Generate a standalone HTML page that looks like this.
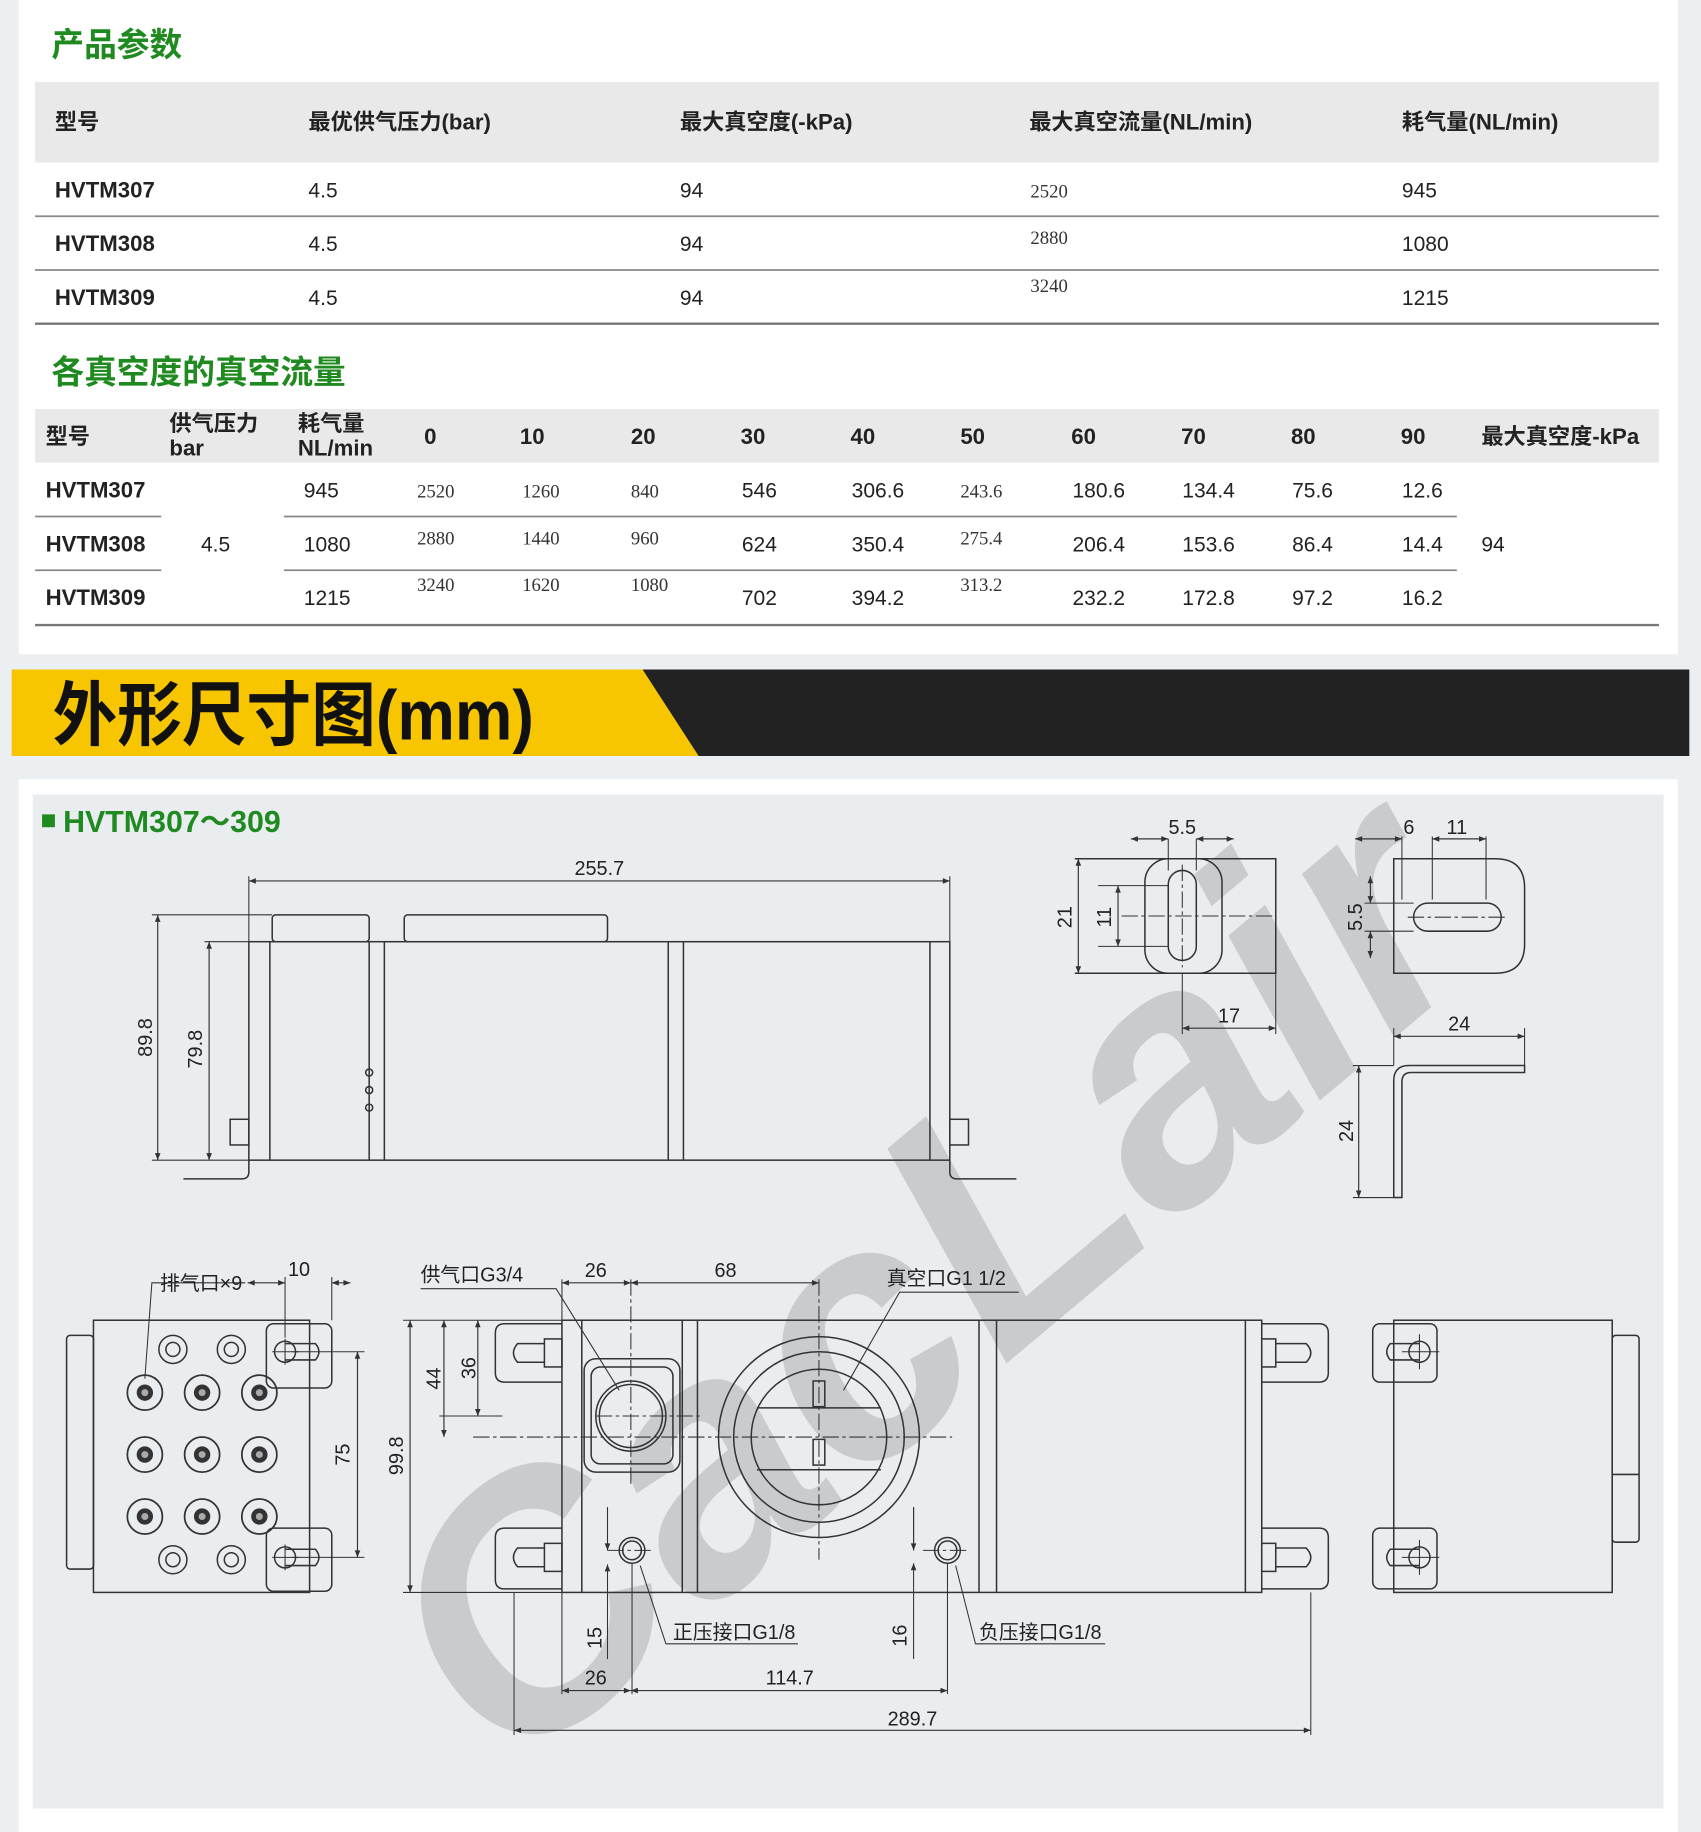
<!DOCTYPE html>
<html><head><meta charset="utf-8"><style>
html,body{margin:0;padding:0;background:#eceff1}
svg{display:block}
text{font-family:"Liberation Sans","Noto Sans CJK SC",sans-serif}
.h{font-weight:bold;font-size:19px;fill:#222}
.r{font-size:18px;fill:#222}
.b{font-weight:bold;font-size:19px;fill:#222}
.g{font-weight:bold;fill:#1f8a1f}
.s{font-family:"Liberation Serif",serif;font-size:16px;fill:#333}
.d{font-family:"Liberation Sans Narrow","Liberation Sans","Noto Sans CJK SC",sans-serif;font-size:17px;fill:#222}
.ln{stroke:#333;stroke-width:1.3;fill:none}
.th{stroke:#333;stroke-width:0.9;fill:none}
.dm{stroke:#333;stroke-width:1;fill:none;marker-start:url(#a);marker-end:url(#a)}
.cl{stroke:#333;stroke-width:0.9;stroke-dasharray:14 3 3 3;fill:none}
</style></head><body>
<svg width="1701" height="1832" viewBox="0 0 1456 1568" xmlns="http://www.w3.org/2000/svg">
<defs><marker id="a" viewBox="0 0 10 10" refX="10" refY="5" markerWidth="9" markerHeight="6" orient="auto-start-reverse" markerUnits="userSpaceOnUse"><path d="M0,1 L10,5 L0,9 z" fill="#333"/></marker>
<clipPath id="cp"><rect x="28" y="680" width="1396" height="868"/></clipPath></defs>
<rect x="0" y="0" width="1456" height="1568" fill="#eceff1"/>
<rect x="16" y="0" width="1420" height="560" fill="#fff"/>
<text x="44" y="48" class="g" font-size="28">产品参数</text>
<rect x="30" y="70" width="1390" height="69" fill="#e9e9e9"/>
<g class="h"><text x="47" y="111">型号</text><text x="264" y="111">最优供气压力(bar)</text><text x="582" y="111">最大真空度(-kPa)</text><text x="881" y="111">最大真空流量(NL/min)</text><text x="1200" y="111">耗气量(NL/min)</text></g>
<g class="r">
<text x="47" y="169" class="b">HVTM307</text><text x="264" y="169">4.5</text><text x="582" y="169">94</text><text x="882" y="169" class="s">2520</text><text x="1200" y="169">945</text>
<text x="47" y="215" class="b">HVTM308</text><text x="264" y="215">4.5</text><text x="582" y="215">94</text><text x="882" y="209" class="s">2880</text><text x="1200" y="215">1080</text>
<text x="47" y="261" class="b">HVTM309</text><text x="264" y="261">4.5</text><text x="582" y="261">94</text><text x="882" y="250" class="s">3240</text><text x="1200" y="261">1215</text>
</g>
<line x1="30" y1="185" x2="1420" y2="185" stroke="#888" stroke-width="1.5"/>
<line x1="30" y1="231" x2="1420" y2="231" stroke="#888" stroke-width="1.5"/>
<line x1="30" y1="277" x2="1420" y2="277" stroke="#777" stroke-width="2"/>
<text x="44" y="328" class="g" font-size="28">各真空度的真空流量</text>
<rect x="30" y="350" width="1390" height="46" fill="#e9e9e9"/>
<g class="h"><text x="39" y="380">型号</text><text x="145" y="369">供气压力</text><text x="145" y="390">bar</text><text x="255" y="369">耗气量</text><text x="255" y="390">NL/min</text>
<text x="363" y="380">0</text><text x="445" y="380">10</text><text x="540" y="380">20</text><text x="634" y="380">30</text><text x="728" y="380">40</text><text x="822" y="380">50</text><text x="917" y="380">60</text><text x="1011" y="380">70</text><text x="1105" y="380">80</text><text x="1199" y="380">90</text><text x="1268" y="380">最大真空度-kPa</text></g>
<g class="r">
<text x="39" y="426" class="b">HVTM307</text><text x="260" y="426">945</text><text x="357" y="426" class="s">2520</text><text x="447" y="426" class="s">1260</text><text x="540" y="426" class="s">840</text><text x="635" y="426">546</text><text x="729" y="426">306.6</text><text x="822" y="426" class="s">243.6</text><text x="918" y="426">180.6</text><text x="1012" y="426">134.4</text><text x="1106" y="426">75.6</text><text x="1200" y="426">12.6</text>
<text x="39" y="472" class="b">HVTM308</text><text x="172" y="472">4.5</text><text x="260" y="472">1080</text><text x="357" y="466" class="s">2880</text><text x="447" y="466" class="s">1440</text><text x="540" y="466" class="s">960</text><text x="635" y="472">624</text><text x="729" y="472">350.4</text><text x="822" y="466" class="s">275.4</text><text x="918" y="472">206.4</text><text x="1012" y="472">153.6</text><text x="1106" y="472">86.4</text><text x="1200" y="472">14.4</text><text x="1268" y="472">94</text>
<text x="39" y="518" class="b">HVTM309</text><text x="260" y="518">1215</text><text x="357" y="506" class="s">3240</text><text x="447" y="506" class="s">1620</text><text x="540" y="506" class="s">1080</text><text x="635" y="518">702</text><text x="729" y="518">394.2</text><text x="822" y="506" class="s">313.2</text><text x="918" y="518">232.2</text><text x="1012" y="518">172.8</text><text x="1106" y="518">97.2</text><text x="1200" y="518">16.2</text>
</g>
<g stroke="#888" stroke-width="1.5"><line x1="30" y1="442" x2="138" y2="442"/><line x1="243" y1="442" x2="1247" y2="442"/><line x1="30" y1="488" x2="138" y2="488"/><line x1="243" y1="488" x2="1247" y2="488"/></g>
<line x1="30" y1="535" x2="1420" y2="535" stroke="#777" stroke-width="2"/>
<polygon points="10,573 550,573 598,647 10,647" fill="#f8c600"/>
<polygon points="550,573 1446,573 1446,647 598,647" fill="#222"/>
<text x="45" y="633" font-size="60" font-weight="bold" fill="#111" textLength="412" lengthAdjust="spacingAndGlyphs">外形尺寸图(mm)</text>
<rect x="16" y="667" width="1420" height="901" fill="#fff"/>
<rect x="28" y="680" width="1396" height="868" fill="#eaedf0"/>
<g clip-path="url(#cp)"><text x="790" y="1195" font-size="300" font-weight="bold" font-style="italic" fill="#c9ccce" transform="rotate(-40 790 1090)" text-anchor="middle">CacLair</text></g>
<rect x="36" y="697" width="11" height="11" fill="#1f8a1f"/>
<text x="54" y="712" class="g" font-size="26">HVTM307～309</text>
<!-- top view -->
<g class="ln">
<rect x="213" y="806" width="600" height="187"/>
<path d="M231,806V993M316,806V993M329,806V993M572,806V993M585,806V993M796,806V993"/>
<rect x="233" y="783" width="83" height="23" rx="3"/><rect x="346" y="783" width="174" height="23" rx="3"/>
<rect x="197" y="958" width="16" height="22"/><rect x="813" y="958" width="16" height="22"/>
<path d="M157,1009H207Q213,1009 213,1003V993M813,993V1003Q813,1009 819,1009H870"/>
<circle cx="316" cy="918" r="3"/><circle cx="316" cy="933" r="3"/><circle cx="316" cy="948" r="3"/>
</g>
<g class="th"><path d="M213,750V806M813,750V806M130,783H233M175,806H213M130,993H213M175,993H200"/></g>
<line class="dm" x1="213" y1="754" x2="813" y2="754"/><text x="513" y="749" class="d" text-anchor="middle">255.7</text>
<line class="dm" x1="135" y1="783" x2="135" y2="993"/><text class="d" transform="translate(130 888) rotate(-90)" text-anchor="middle">89.8</text>
<line class="dm" x1="179" y1="806" x2="179" y2="993"/><text class="d" transform="translate(173 898) rotate(-90)" text-anchor="middle">79.8</text>
<!-- detail 1 -->
<g class="ln"><path d="M920,735H1092V833H920"/><rect x="980" y="735" width="66" height="98" rx="20"/><rect x="1000" y="745" width="24" height="77" rx="12"/></g>
<g class="th"><path d="M1000,718V745M1024,718V745M940,758H1000M940,810H1000M1012,833V885M1092,833V885"/></g>
<line class="cl" x1="1012" y1="740" x2="1012" y2="828"/><line class="cl" x1="960" y1="784" x2="1090" y2="784"/>
<line class="dm" x1="968" y1="718" x2="1000" y2="718"/><line class="dm" x1="1056" y1="718" x2="1024" y2="718"/><text x="1012" y="714" class="d" text-anchor="middle">5.5</text>
<line class="dm" x1="923" y1="735" x2="923" y2="833"/><text class="d" transform="translate(917 785) rotate(-90)" text-anchor="middle">21</text>
<line class="dm" x1="957" y1="758" x2="957" y2="810"/><text class="d" transform="translate(951 785) rotate(-90)" text-anchor="middle">11</text>
<line class="dm" x1="1012" y1="880" x2="1092" y2="880"/><text x="1052" y="875" class="d" text-anchor="middle">17</text>
<!-- detail 2 -->
<g class="ln"><path d="M1193,735H1280Q1305,735 1305,760V808Q1305,833 1280,833H1193Z"/><rect x="1210" y="773" width="75" height="24" rx="12"/></g>
<g class="th"><path d="M1200,716V770M1226,716V770M1272,716V770M1168,773H1210M1168,797H1210"/></g>
<line class="cl" x1="1205" y1="785" x2="1290" y2="785"/>
<line class="dm" x1="1160" y1="718" x2="1200" y2="718"/><line class="dm" x1="1226" y1="718" x2="1272" y2="718"/>
<text x="1206" y="714" class="d" text-anchor="middle">6</text><text x="1247" y="714" class="d" text-anchor="middle">11</text>
<line class="dm" x1="1173" y1="750" x2="1173" y2="773"/><line class="dm" x1="1173" y1="820" x2="1173" y2="797"/>
<text class="d" transform="translate(1166 785) rotate(-90)" text-anchor="middle">5.5</text>
<!-- detail 3 -->
<path class="ln" d="M1193,1025V925Q1193,912 1206,912H1305V918H1208Q1200,918 1200,926V1025Z"/>
<g class="th"><path d="M1193,880V912M1305,880V912M1158,912H1193M1158,1025H1200"/></g>
<line class="dm" x1="1193" y1="887" x2="1305" y2="887"/><text x="1249" y="882" class="d" text-anchor="middle">24</text>
<line class="dm" x1="1163" y1="912" x2="1163" y2="1025"/><text class="d" transform="translate(1158 968) rotate(-90)" text-anchor="middle">24</text>
<!-- bottom left end view -->
<g class="ln">
<rect x="80" y="1130" width="185" height="233"/><rect x="57" y="1143" width="23" height="200" rx="3"/>
<rect x="228" y="1133" width="56" height="55" rx="6"/><rect x="228" y="1308" width="56" height="54" rx="6"/>
<circle cx="244" cy="1157" r="9"/><circle cx="244" cy="1333" r="9"/>
<path d="M244,1150H270Q276,1157 270,1164H244M244,1326H270Q276,1333 270,1340H244"/>
</g>
<g class="ln">
<circle cx="148" cy="1155" r="12"/><circle cx="198" cy="1155" r="12"/><circle cx="148" cy="1335" r="12"/><circle cx="198" cy="1335" r="12"/>
<circle cx="148" cy="1155" r="6"/><circle cx="198" cy="1155" r="6"/><circle cx="148" cy="1335" r="6"/><circle cx="198" cy="1335" r="6"/>
</g>
<g fill="none" stroke="#333" stroke-width="1.5">
<circle cx="124" cy="1192" r="15"/><circle cx="173" cy="1192" r="15"/><circle cx="222" cy="1192" r="15"/>
<circle cx="124" cy="1245" r="15"/><circle cx="173" cy="1245" r="15"/><circle cx="222" cy="1245" r="15"/>
<circle cx="124" cy="1298" r="15"/><circle cx="173" cy="1298" r="15"/><circle cx="222" cy="1298" r="15"/>
</g>
<g fill="#333"><circle cx="124" cy="1192" r="7"/><circle cx="173" cy="1192" r="7"/><circle cx="222" cy="1192" r="7"/><circle cx="124" cy="1245" r="7"/><circle cx="173" cy="1245" r="7"/><circle cx="222" cy="1245" r="7"/><circle cx="124" cy="1298" r="7"/><circle cx="173" cy="1298" r="7"/><circle cx="222" cy="1298" r="7"/></g>
<g fill="#aaa"><circle cx="124" cy="1192" r="3"/><circle cx="173" cy="1192" r="3"/><circle cx="222" cy="1192" r="3"/><circle cx="124" cy="1245" r="3"/><circle cx="173" cy="1245" r="3"/><circle cx="222" cy="1245" r="3"/><circle cx="124" cy="1298" r="3"/><circle cx="173" cy="1298" r="3"/><circle cx="222" cy="1298" r="3"/></g>
<g class="th"><path d="M244,1093V1145M284,1093V1130M250,1157H312M250,1333H312"/><path d="M210,1098H130L124,1180"/></g>
<line class="dm" x1="212" y1="1098" x2="244" y2="1098"/><line class="dm" x1="300" y1="1098" x2="284" y2="1098"/>
<text x="256" y="1092" class="d" text-anchor="middle">10</text><text x="137" y="1104" class="d">排气口×9</text>
<line class="dm" x1="306" y1="1157" x2="306" y2="1333"/><text class="d" transform="translate(299 1245) rotate(-90)" text-anchor="middle">75</text>
<!-- main body bottom -->
<g class="ln">
<rect x="481" y="1130" width="599" height="233"/>
<path d="M498,1130V1363M584,1130V1363M597,1130V1363M838,1130V1363M853,1130V1363M1066,1130V1363"/>
<path d="M481,1133H432Q424,1133 424,1141V1175Q424,1183 432,1183H481M481,1308H432Q424,1308 424,1316V1352Q424,1360 432,1360H481"/>
<path d="M1080,1133H1129Q1137,1133 1137,1141V1175Q1137,1183 1129,1183H1080M1080,1308H1129Q1137,1308 1137,1316V1352Q1137,1360 1129,1360H1080"/>
<path d="M466,1150H443Q436,1158 443,1166H466M466,1325H443Q436,1333 443,1341H466M1092,1150H1118Q1126,1158 1118,1166H1092M1092,1325H1118Q1126,1333 1118,1341H1092"/>
<rect x="466" y="1146" width="15" height="24"/><rect x="466" y="1321" width="15" height="24"/><rect x="1080" y="1146" width="12" height="24"/><rect x="1080" y="1321" width="12" height="24"/>
<rect x="500" y="1163" width="82" height="97" rx="10"/><rect x="506" y="1170" width="70" height="83" rx="8"/>
<circle cx="540" cy="1212" r="30"/><circle cx="540" cy="1212" r="27"/>
<circle cx="701" cy="1230" r="86"/><circle cx="701" cy="1230" r="73"/><circle cx="701" cy="1230" r="58"/>
<path d="M648,1205H754M648,1258H754"/>
<rect x="696" y="1182" width="10" height="22"/><rect x="696" y="1232" width="10" height="22"/>
<circle cx="541" cy="1327" r="11"/><circle cx="541" cy="1327" r="8"/><circle cx="811" cy="1327" r="11"/><circle cx="811" cy="1327" r="8"/>
</g>
<line class="cl" x1="405" y1="1230" x2="815" y2="1230"/><line class="cl" x1="701" y1="1095" x2="701" y2="1335"/>
<line class="cl" x1="510" y1="1212" x2="600" y2="1212"/><line class="cl" x1="540" y1="1095" x2="540" y2="1270"/>
<line class="cl" x1="520" y1="1327" x2="560" y2="1327"/><line class="cl" x1="790" y1="1327" x2="830" y2="1327"/>
<g class="th"><path d="M481,1095V1130M345,1130H481M345,1363H481M376,1212H430M541,1338V1450M811,1338V1450M481,1363V1450M440,1363V1485M1122,1363V1485"/>
<path d="M360,1103H476L530,1190M872,1106H770L722,1190M548,1340L570,1407H683M818,1340L835,1407H946"/>
<path d="M520,1290V1327M520,1375V1420M782,1290V1327M782,1375V1420"/></g>
<line class="dm" x1="351" y1="1130" x2="351" y2="1363"/><text class="d" transform="translate(345 1246) rotate(-90)" text-anchor="middle">99.8</text>
<line class="dm" x1="380" y1="1130" x2="380" y2="1230"/><text class="d" transform="translate(377 1180) rotate(-90)" text-anchor="middle">44</text>
<line class="dm" x1="409" y1="1130" x2="409" y2="1212"/><text class="d" transform="translate(407 1171) rotate(-90)" text-anchor="middle">36</text>
<line class="dm" x1="481" y1="1098" x2="540" y2="1098"/><line class="dm" x1="540" y1="1098" x2="701" y2="1098"/>
<text x="510" y="1093" class="d" text-anchor="middle">26</text><text x="621" y="1093" class="d" text-anchor="middle">68</text>
<text x="360" y="1097" class="d">供气口G3/4</text><text x="759" y="1100" class="d">真空口G1 1/2</text>
<line x1="520" y1="1290" x2="520" y2="1327" class="th" marker-end="url(#a)"/><line x1="520" y1="1375" x2="520" y2="1339" class="th" marker-end="url(#a)"/>
<line x1="782" y1="1290" x2="782" y2="1327" class="th" marker-end="url(#a)"/><line x1="782" y1="1375" x2="782" y2="1338" class="th" marker-end="url(#a)"/>
<text class="d" transform="translate(515 1402) rotate(-90)" text-anchor="middle">15</text><text class="d" transform="translate(776 1400) rotate(-90)" text-anchor="middle">16</text>
<text x="576" y="1403" class="d">正压接口G1/8</text><text x="838" y="1403" class="d">负压接口G1/8</text>
<line class="dm" x1="481" y1="1447" x2="540" y2="1447"/><line class="dm" x1="540" y1="1447" x2="811" y2="1447"/>
<text x="510" y="1442" class="d" text-anchor="middle">26</text><text x="676" y="1442" class="d" text-anchor="middle">114.7</text>
<line class="dm" x1="440" y1="1481" x2="1122" y2="1481"/><text x="781" y="1477" class="d" text-anchor="middle">289.7</text>
<!-- right end view -->
<g class="ln">
<rect x="1193" y="1130" width="187" height="233"/><rect x="1380" y="1143" width="23" height="177" rx="3"/><path d="M1380,1262H1403"/>
<rect x="1175" y="1133" width="55" height="50" rx="6"/><rect x="1175" y="1308" width="55" height="52" rx="6"/>
<circle cx="1215" cy="1157" r="9"/><circle cx="1215" cy="1333" r="9"/>
<path d="M1215,1150H1190Q1184,1157 1190,1164H1215M1215,1326H1190Q1184,1333 1190,1340H1215"/>
</g>
<g class="th"><path d="M1200,1157H1232M1215,1142V1172M1200,1333H1232M1215,1318V1348M233,1157H256M244,1146V1168M233,1333H256M244,1322V1344"/></g>
</svg>
</body></html>
